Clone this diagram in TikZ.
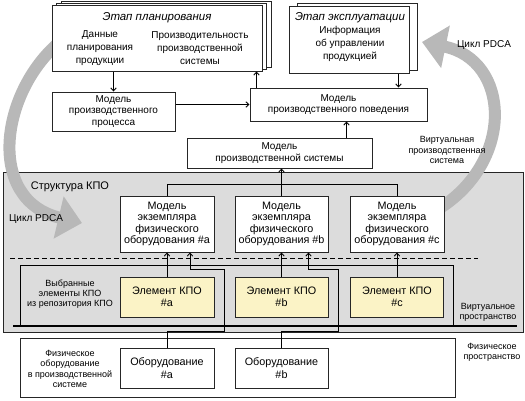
\documentclass[tikz,border=0pt]{standalone}
\usepackage{fontspec}
\setmainfont{Liberation Sans}
\usetikzlibrary{arrows.meta,positioning,shadows}
\definecolor{kpoyellow}{HTML}{FBF3C6}
\definecolor{regiongray}{HTML}{DCDCDC}
\definecolor{cyclegray}{HTML}{B8B8B8}

\begin{document}
\begin{tikzpicture}[
    x=1pt, y=-1pt,
    >={Straight Barb[length=3pt,width=5.5pt]},
    box/.style={draw=black!85, line width=1pt, fill=white, inner sep=1pt, align=center, font=\fontsize{10}{11.8}\selectfont},
    model/.style={box, font=\fontsize{10.8}{11.4}\selectfont},
    kpo/.style={box, fill=kpoyellow, font=\fontsize{10.8}{12.5}\selectfont},
    region/.style={draw=black!85, line width=1pt, fill=regiongray, inner sep=0pt},
    lbl/.style={align=center, inner sep=0pt, font=\fontsize{10}{12.8}\selectfont},
    small/.style={lbl, font=\fontsize{9}{10.3}\selectfont},
    stage/.style={inner sep=0pt, font=\fontsize{11.5}{13}\selectfont\itshape},
    pdca/.style={line width=12pt, draw=cyclegray, -{Triangle[width=42pt,length=24pt]}},
    conn/.style={->, line width=0.9pt}
]
    \useasboundingbox (0,0) rectangle (525,400);

    % virtual space
    \node[region, minimum width=520pt, minimum height=160pt] (kpo) at (263,252) {};

    % PDCA cycle
    \draw[pdca] (62,40) .. controls (0,90) and (-15,200) .. (82,223);
    \draw[pdca] (440,208) .. controls (515,160) and (510,60) .. (422,42);

    % planning and operation stages
    \node[box, double copy shadow={shadow xshift=4.5pt, shadow yshift=2pt, draw=black!85, line width=1pt, fill=white},
        minimum width=210pt, minimum height=66pt] (plan) at (157,38) {};
    \node[stage] (plantitle) at (157,18) {Этап планирования};
    \node[lbl] (pdata) at (100,48) {Данные\\планирования\\продукции};
    \node[lbl] (pperf) at (200,48) {Производительность\\производственной\\системы};

    \node[box, copy shadow={shadow xshift=8pt, shadow yshift=3pt, draw=black!85, line width=1pt, fill=white},
        minimum width=120pt, minimum height=67pt] (oper) at (349,39.5) {};
    \node[stage] (opertitle) at (350,18) {Этап эксплуатации};
    \node[lbl] (pinfo) at (350,44) {Информация\\об управлении\\продукцией};

    % models
    \node[box, minimum width=123pt, minimum height=39pt] (proc) at (113.5,111.5) {Модель\\производственного\\процесса};
    \node[box, minimum width=177pt, minimum height=33pt] (behav) at (338.5,104.5) {Модель\\производственного поведения};
    \node[box, minimum width=185pt, minimum height=30pt] (sys) at (279.5,153) {Модель\\производственной системы};

    \node[model, minimum width=94pt, minimum height=56pt] (moda) at (167,224) {Модель\\экземпляра\\физического\\оборудования \#a};
    \node[model, minimum width=93pt, minimum height=56pt] (modb) at (281.5,224) {Модель\\экземпляра\\физического\\оборудования \#b};
    \node[model, minimum width=94pt, minimum height=56pt] (modc) at (397,224) {Модель\\экземпляра\\физического\\оборудования \#c};

    % selected KPO elements
    \draw[dashed, dash pattern=on 5pt off 3pt, line width=1pt] (10,258) -- (478,258);
    \draw[line width=1pt] (20,326) -- (20,265) -- (453,265) -- (453,326);
    \draw[line width=2.5pt] (13,326) -- (517,326);

    \node[kpo, minimum width=94pt, minimum height=40pt] (ela) at (167,297) {Элемент КПО\\\#a};
    \node[kpo, minimum width=93pt, minimum height=40pt] (elb) at (281.5,297) {Элемент КПО\\\#b};
    \node[kpo, minimum width=93pt, minimum height=40pt] (elc) at (397,297) {Элемент КПО\\\#c};

    % physical space
    \node[box, minimum width=435pt, minimum height=59pt] (phys) at (237.5,367.5) {};
    \node[kpo, fill=white, minimum width=94pt, minimum height=40pt] (eqa) at (167,368) {Оборудование\\\#a};
    \node[kpo, fill=white, minimum width=93pt, minimum height=40pt] (eqb) at (281.5,368) {Оборудование\\\#b};

    % labels
    \node[lbl] (pdcatop) at (484,45) {Цикл PDCA};
    \node[lbl] (pdcaleft) at (36,219) {Цикл PDCA};
    \node[lbl, font=\fontsize{11}{13}\selectfont] (kpotitle) at (70,187) {Структура КПО};
    \node[small] (virtsys) at (447,150) {Виртуальная\\производственная\\система};
    \node[small] (selected) at (70,294) {Выбранные\\элементы КПО\\из репозитория КПО};
    \node[small] (virtspace) at (488,312) {Виртуальное\\пространство};
    \node[small] (physspace) at (492,352) {Физическое\\пространство};
    \node[small] (physeq) at (70,369) {Физическое\\оборудование\\в производственной\\системе};

    % connectors
    \coordinate (bup) at ([xshift=7pt]behav.north west);
    \coordinate (odown) at ([xshift=-11pt]oper.south east);
    \coordinate (bdown) at ([xshift=8pt]behav.south);
    \draw[conn] (proc.north |- plan.south) -- (proc.north);
    \draw[conn] (behav.west -| proc.east) -- (behav.west);
    \draw[conn] (bup) -- (bup |- plan.south);
    \draw[conn] (odown) -- (odown |- behav.north);
    \draw[conn] (bdown |- sys.north) -- (bdown);
    \draw[line width=0.9pt] (moda.north) -- ++(0,-11) -| (modc.north);
    \draw[conn] (modb.north) -- (modb.north |- sys.south);
    \draw[conn] (ela.north) -- (moda.south);
    \draw[conn] (elb.north) -- (modb.south);
    \draw[conn] (elc.north) -- (modc.south);
    \draw[conn] (eqa.north) -- ++(0,-16) -| ++(57,-62) -| ([xshift=23pt]moda.south);
    \draw[conn] (eqb.north) -- ++(0,-16) -| ++(57,-62) -| ([xshift=27pt]modb.south);
\end{tikzpicture}
\end{document}
